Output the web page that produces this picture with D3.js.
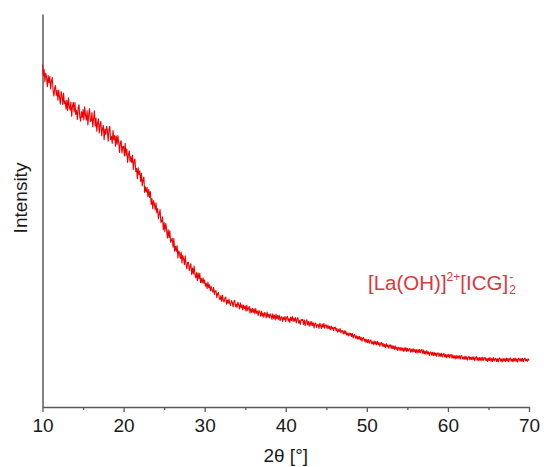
<!DOCTYPE html>
<html>
<head>
<meta charset="utf-8">
<script src="https://cdn.jsdelivr.net/npm/d3@7"></script>
<style>
  html, body { margin: 0; padding: 0; background: #fff; }
  svg { display: block; }
  text { font-family: "Liberation Sans", Arial, Helvetica, sans-serif; }
</style>
</head>
<body>
<svg id="chart" width="544" height="467"></svg>
<script>
// Powder XRD scan: 2θ from 10° to 70° in 0.1° steps (counts, arbitrary units)
const scanStart = 10;
const scanStep = 0.1;
const intensity = [
  1370,1325,1350,1301,1336,1321,1281,1326,1297,1322,
  1272,1303,1318,1269,1244,1275,1286,1246,1267,1227,
  1268,1239,1211,1262,1244,1210,1256,1213,1224,1191,
  1227,1185,1237,1205,1187,1220,1163,1205,1218,1180,
  1218,1170,1187,1150,1197,1209,1161,1143,1181,1158,
  1190,1148,1201,1169,1147,1185,1128,1171,1194,1142,
  1145,1178,1120,1153,1185,1123,1156,1103,1136,1153,
  1096,1129,1142,1085,1113,1126,1069,1112,1090,1123,
  1106,1063,1110,1123,1070,1082,1054,1106,1069,1086,
  1043,1084,1050,1086,1057,1018,1059,1065,1016,1042,
  1043,1004,1055,1006,1032,978,1009,1025,981,1002,
  978,1007,950,984,992,941,955,913,957,930,
  944,902,935,884,907,920,858,881,860,878,
  841,870,838,862,810,834,793,826,810,788,
  817,776,794,753,771,790,739,742,761,709,
  738,701,734,713,676,709,677,705,659,667,
  675,639,674,623,643,622,646,596,625,615,
  594,620,576,607,593,569,605,571,552,578,
  579,545,562,573,530,556,532,564,530,517,
  538,505,537,513,535,497,514,496,517,494,
  508,483,495,473,500,477,489,464,482,468,
  460,479,450,464,465,437,453,458,436,429,
  446,422,448,426,420,436,440,411,428,414,
  432,413,406,426,419,400,421,427,402,411,
  398,419,409,392,417,397,409,388,408,393,
  404,383,408,386,395,402,375,394,378,395,
  378,393,372,394,375,384,365,386,378,363,
  384,363,376,358,379,370,357,380,360,371,
  356,373,366,350,373,354,367,348,372,353,
  366,350,367,345,358,362,342,359,349,362,
  342,358,363,343,354,338,360,345,363,342,
  356,343,358,336,351,358,335,346,330,351,
  346,351,330,348,325,340,349,328,342,323,
  342,325,342,326,337,316,333,336,318,329,
  330,314,335,325,314,332,318,335,315,328,
  328,313,328,314,323,308,324,312,319,306,
  318,320,305,315,299,310,302,314,296,306,
  305,292,306,292,304,288,296,284,296,287,
  295,282,295,276,287,290,275,285,271,283,
  272,283,268,279,263,275,278,263,272,258,
  270,258,270,255,265,269,253,261,250,264,
  251,262,248,263,249,258,243,255,258,243,
  255,241,251,238,254,240,249,235,246,249,
  234,247,233,244,230,245,231,239,226,239,
  237,225,239,227,236,222,237,224,238,222,
  235,223,231,235,219,231,220,234,221,230,
  218,230,215,230,218,230,217,227,230,213,
  228,213,223,211,226,212,221,206,218,220,
  207,219,205,219,206,216,203,214,217,202,
  214,203,215,200,210,215,200,210,197,210,
  200,211,197,208,210,195,208,196,205,192,
  207,194,204,195,206,191,204,206,192,200,
  190,204,191,201,188,199,203,189,199,190,
  200,189,201,185,197,202,187,198,185,198,
  187,198,185,199,187,196,198,185,194,182,
  196,186,198,183,194,182,198,184,192,195,
  182,193,181,194,196,183,192,180,195,184,
  193,182,196,184,194,181,193,197,183,192,
  181,194,184,196,182,193,180,195,192,183,
  194,183,195,182,192,196,184,190,183,193,
  186
];

const majorTicks = [10, 20, 30, 40, 50, 60, 70];
const minorTicks = [15, 25, 35, 45, 55, 65];
const xTitle = "2θ [°]";
const yTitle = "Intensity";

const twoTheta = intensity.map((_, i) => +(scanStart + i * scanStep).toFixed(1));
const scan = twoTheta.map((t, i) => ({ t, c: intensity[i] }));

const svg = d3.select("#chart");
svg.append("rect").attr("width", 544).attr("height", 467).attr("fill", "#fff");

const x = d3.scaleLinear().domain([10, 70]).range([42.5, 529]);
const y = d3.scaleLinear().domain([0, 1572]).range([407, 14]);

const axisColor = "#5a5a5a";

// x axis: labelled major ticks plus short minor ticks
const gx = svg.append("g").attr("transform", "translate(0,407)")
  .call(d3.axisBottom(x).tickValues(majorTicks).tickFormat(d3.format("d"))
    .tickSize(5).tickSizeOuter(0).tickPadding(7));
gx.select(".domain").attr("stroke", axisColor).attr("stroke-width", 1.5);
gx.selectAll(".tick line").attr("stroke", axisColor).attr("stroke-width", 1.3);
gx.selectAll(".tick text").attr("fill", "#1a1a1a").attr("font-size", 19)
  .style("font-family", "'Liberation Sans', Arial, sans-serif");

const gm = svg.append("g").attr("transform", "translate(0,407)")
  .call(d3.axisBottom(x).tickValues(minorTicks).tickFormat("").tickSize(3).tickSizeOuter(0));
gm.select(".domain").remove();
gm.selectAll(".tick line").attr("stroke", axisColor).attr("stroke-width", 1.3);

// y axis: plain line, no ticks
const gy = svg.append("g").attr("transform", "translate(42.5,0)")
  .call(d3.axisLeft(y).tickValues([]).tickSizeOuter(0));
gy.select(".domain").attr("stroke", axisColor).attr("stroke-width", 1.5);

// axis titles
svg.append("text")
  .attr("x", (x.range()[0] + x.range()[1]) / 2).attr("y", 462)
  .attr("text-anchor", "middle").attr("font-size", 19).attr("fill", "#1a1a1a")
  .text(xTitle);

svg.append("text")
  .attr("transform", "translate(27,198) rotate(-90)")
  .attr("text-anchor", "middle").attr("font-size", 19).attr("fill", "#1a1a1a")
  .text(yTitle);

// diffraction trace
const line = d3.line().x(d => x(d.t)).y(d => y(d.c));
svg.append("path").datum(scan)
  .attr("d", line)
  .attr("fill", "none")
  .attr("stroke", "#f20000")
  .attr("stroke-width", 1.1)
  .attr("stroke-linejoin", "round");

// sample label
const labelColor = "#e0353c";
const lbl = svg.append("text").attr("x", 368).attr("y", 290)
  .attr("font-size", 20.5).attr("fill", labelColor);
lbl.append("tspan").text("[La(OH)]");
lbl.append("tspan").attr("font-size", 12).attr("dy", -9).text("2+");
lbl.append("tspan").attr("font-size", 20.5).attr("dy", 9).text("[ICG]");
lbl.append("tspan").attr("font-size", 12).attr("dy", -9).attr("dx", 1).text("-");
lbl.append("tspan").attr("font-size", 12).attr("dy", 13).attr("dx", -4).text("2");
</script>
</body>
</html>
